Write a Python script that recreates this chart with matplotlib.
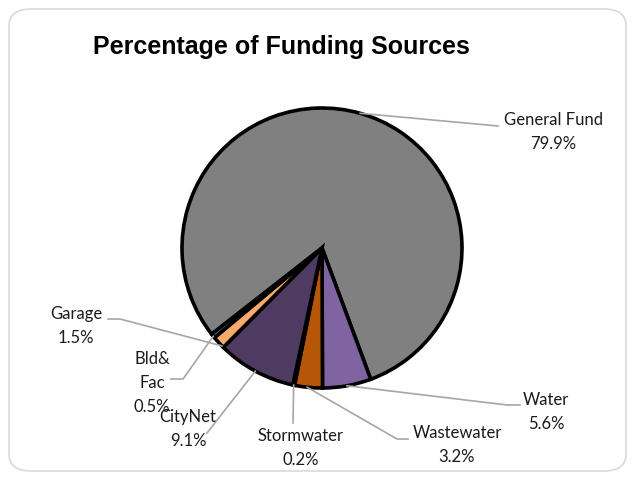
import matplotlib
matplotlib.use("Agg")
import matplotlib.pyplot as plt
import numpy as np
from matplotlib.patches import FancyBboxPatch

title = "Percentage of Funding Sources"
categories = ["General Fund", "Water", "Wastewater", "Stormwater", "CityNet", "Garage", "Bld&\nFac"]
values = [79.9, 5.6, 3.2, 0.2, 9.1, 1.5, 0.5]
colors = ["#808080", "#8064A2", "#B65708", "#2A2A2A", "#4F3B62", "#F9A96B", "#4BACC6"]

# label layout (pixel coords, y from top): text center, leader-line points
label_pos = {
    "General Fund": (553, 132),
    "Water": (546, 412),
    "Wastewater": (457, 445),
    "Stormwater": (301, 448),
    "CityNet": (188, 429),
    "Garage": (76, 326),
    "Bld&\nFac": (152, 383),
}
line_end = {
    "General Fund": [(498, 126)],
    "Water": [(507, 405), (520, 405)],
    "Wastewater": [(397, 439), (408, 439)],
    "Stormwater": [(293, 423)],
    "CityNet": [(207, 433)],
    "Garage": [(120, 319), (108, 319)],
    "Bld&\nFac": [(183, 379), (171, 379)],
}
anchor_frac = {"General Fund": 0.5, "Wastewater": 0.45, "Garage": 0.85, "Bld&\nFac": 0.6}

W, H = 635, 480
fig = plt.figure(figsize=(W / 100, H / 100), dpi=100)
fig.patch.set_facecolor("white")
border = FancyBboxPatch((9 / W, 9 / H), (W - 18) / W, (H - 18) / H,
                        boxstyle="round,pad=0,rounding_size=0.035",
                        transform=fig.transFigure, facecolor="none",
                        edgecolor="#D9D9D9", linewidth=1.2, zorder=-1)
fig.patches.append(border)

ax = fig.add_axes([0, 0, 1, 1])
ax.patch.set_alpha(0)

cx, cy, r = 322, H - 248, 140
wedges, _ = ax.pie(values, colors=colors, startangle=218, counterclock=False,
                   center=(cx, cy), radius=r, frame=True,
                   wedgeprops=dict(edgecolor="black", linewidth=2.6))
ax.set_xlim(0, W)
ax.set_ylim(0, H)
ax.set_aspect("equal")
ax.axis("off")

lab_font = dict(family=["Lato", "DejaVu Sans"], fontsize=12, color="#1a1a1a")
for w, cat, v in zip(wedges, categories, values):
    t1, t2 = w.theta1, w.theta2
    f = anchor_frac.get(cat, 0.5)
    th = np.deg2rad(t1 + (t2 - t1) * f)
    ax_pt = (cx + r * np.cos(th), cy + r * np.sin(th))
    pts = [ax_pt] + [(x, H - y) for x, y in line_end[cat]]
    xs, ys = zip(*pts)
    ax.plot(xs, ys, color="#A6A6A6", lw=1.2, zorder=1)
    lx, ly = label_pos[cat]
    ax.text(lx, H - ly, f"{cat}\n{v:.1f}%", ha="center", va="center",
            linespacing=1.6, **lab_font)

fig.text(281 / W, 1 - 47 / H, title, ha="center", va="center",
         family=["Liberation Sans", "DejaVu Sans"], fontweight="bold", fontsize=18)

fig.savefig("out.png", dpi=100, facecolor="white")
